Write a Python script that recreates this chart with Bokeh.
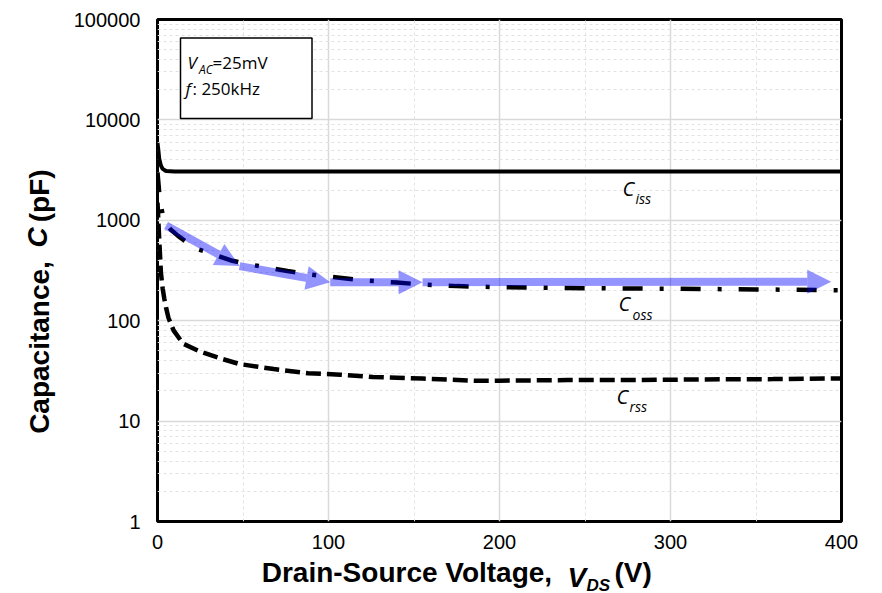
from math import pi
from bokeh.plotting import figure
from bokeh.models import (FixedTicker, Label, BoxAnnotation, Arrow, NormalHead,
                          Range1d, NumeralTickFormatter)
from bokeh.embed import file_html
from bokeh.resources import INLINE

# ---------------- data ----------------
vds_ciss = [0, 0.5, 1, 2, 3, 5, 10, 50, 100, 200, 300, 400]
ciss = [5900, 5000, 4100, 3500, 3250, 3100, 3070, 3060, 3060, 3060, 3060, 3060]

vds_coss = [0, 1, 2, 3, 4.7, 8, 12, 22, 33, 43, 54, 66, 76, 88, 100, 122, 140,
            155, 175, 200, 250, 300, 350, 400]
coss = [3000, 1900, 1400, 1150, 930, 800, 700, 525, 457, 398, 363, 335, 312,
        290, 275, 251, 240, 229, 221, 216, 211, 208, 205, 201]

vds_crss = [0, 0.5, 1, 2, 3, 4, 5, 6.4, 9.4, 15, 24, 37, 48, 68, 88, 107, 126,
            155, 185, 200, 240, 280, 320, 360, 400]
crss = [1500, 1000, 650, 300, 210, 165, 135, 107, 80, 59, 50, 42, 37, 33, 30,
        29, 27.5, 26.5, 25.3, 25.3, 25.6, 25.7, 26, 26.2, 26.6]

# blue guide arrows along Coss
arrow_x0 = [5, 48, 101, 155]
arrow_y0 = [890, 350, 242, 242]
arrow_x1 = [48, 101, 155, 394]
arrow_y1 = [350, 242, 242, 244]

x_ticks = [0, 100, 200, 300, 400]
x_minor = [50, 150, 250, 350]
y_ticks = [1, 10, 100, 1000, 10000, 100000]
y_minor = [m * d for d in [1, 10, 100, 1000, 10000] for m in range(2, 10)]

NB = "\u00a0"

# ---------------- layout helpers (canvas pixel -> data) ----------------
W, H = 880, 592
FL, FR, FT, FB = 157, 841, 19, 521
X0, X1 = 0, 400
D0, D1 = 0, 5  # log10 range


def dx(px):
    return X0 + (px - FL) / (FR - FL) * (X1 - X0)


def dy(py):
    return 10 ** (D1 - (py - FT) / (FB - FT) * (D1 - D0))


p = figure(x_range=Range1d(0, 400), y_range=Range1d(1, 100000),
           y_axis_type="log",
           frame_width=FR - FL, frame_height=FB - FT,
           min_border_left=FL, min_border_right=W - FR,
           min_border_top=FT, min_border_bottom=H - FB,
           output_backend="svg", toolbar_location=None,
           background_fill_color="white", border_fill_color="white")

p.xaxis.ticker = FixedTicker(ticks=x_ticks, minor_ticks=x_minor)
p.yaxis.ticker = FixedTicker(ticks=y_ticks, minor_ticks=y_minor)
p.yaxis.formatter = NumeralTickFormatter(format="0")
p.xaxis.formatter = NumeralTickFormatter(format="0")

for ax in p.axis:
    ax.axis_line_color = None
    ax.major_tick_line_color = None
    ax.minor_tick_line_color = None
    ax.major_tick_in = 0
    ax.major_tick_out = 0
    ax.minor_tick_in = 0
    ax.minor_tick_out = 0
    ax.major_label_text_font = "Liberation Sans"
    ax.major_label_text_font_size = "20px"
    ax.major_label_text_color = "black"
    ax.axis_label_text_font = "Liberation Sans"
    ax.axis_label_text_font_size = "28px"
    ax.axis_label_text_font_style = "bold"
    ax.axis_label_text_color = "black"
p.yaxis.major_label_standoff = 17
p.xaxis.major_label_standoff = 13

# axis titles: italic parts are overlaid separately (gaps kept with no-break spaces)
p.xaxis.axis_label = "Drain-Source Voltage," + NB * 8 + "(V)" + NB * 11
p.xaxis.axis_label_standoff = 5
p.yaxis.axis_label = "Capacitance," + NB * 5 + "(pF)" + NB * 8
p.yaxis.axis_label_standoff = 16

for g in (p.xgrid, p.ygrid):
    g.grid_line_color = "#d9d9d9"
    g.grid_line_width = 1.5
    g.minor_grid_line_color = "#e2e2e2"
    g.minor_grid_line_width = 1
    g.minor_grid_line_dash = "3 3"

p.outline_line_color = "black"
p.outline_line_width = 3
p.outline_line_alpha = 1

# rendered text sits lower than its anchor by about this fraction of its size
SHIFT = {"Open Sans": 0.45, "Liberation Sans": 0.25}


def lab(text, px, py, size, font="Open Sans", style="normal", angle=0.0, place=None):
    s = SHIFT[font] * size
    if angle:
        px = px - 10
    else:
        py = py - s
    l = Label(x=dx(px), y=dy(py), text=text, text_font=font,
              text_font_size=f"{size}px", text_font_style=style,
              text_color="black", text_align="left", text_line_height=1.0,
              text_baseline="alphabetic", angle=angle)
    if place is None:
        p.add_layout(l)
    else:
        p.add_layout(l, place)


# italic pieces of the axis titles (placed in side panels so they are not clipped)
lab("V", 567, 584, 28, font="Liberation Sans", style="bold italic", place="left")
lab("DS", 586, 589, 17, font="Liberation Sans", style="bold italic", place="above")
lab("C", 47, 247, 28, font="Liberation Sans", style="bold italic", angle=pi / 2, place="right")

# curves
p.line(vds_ciss, ciss, line_color="black", line_width=4)
p.line(vds_coss, coss, line_color="black", line_width=4.5, line_dash="20 17 4 17")
p.line(vds_crss, crss, line_color="black", line_width=4.5, line_dash="15 6")

# condition box
p.add_layout(BoxAnnotation(left=dx(180), right=dx(311.5), top=dy(37.5), bottom=dy(118),
                           fill_color="white", fill_alpha=1,
                           line_color="black", line_width=1.5, line_alpha=1))

# box texts
lab("V", 187, 70, 17, style="italic")
lab("AC", 198.5, 74, 12, style="italic")
lab("=25mV", 212, 70, 17)
lab("f", 185, 96, 17, style="italic")
lab(": 250kHz", 192, 96, 17)

# curve labels
lab("C", 622, 197, 20, style="italic")
lab("iss", 635, 204, 14, style="italic")
lab("C", 618, 312, 20, style="italic")
lab("oss", 632, 320, 14, style="italic")
lab("C", 616, 405, 20, style="italic")
lab("rss", 629, 412, 14, style="italic")

# arrows
for xs, ys, xe, ye in zip(arrow_x0, arrow_y0, arrow_x1, arrow_y1):
    p.add_layout(Arrow(end=NormalHead(size=24, fill_color="blue", fill_alpha=0.42,
                                      line_color=None),
                       x_start=xs, y_start=ys, x_end=xe, y_end=ye,
                       line_color="blue", line_alpha=0.42, line_width=8))

open("out.html", "w").write(file_html(p, INLINE))
